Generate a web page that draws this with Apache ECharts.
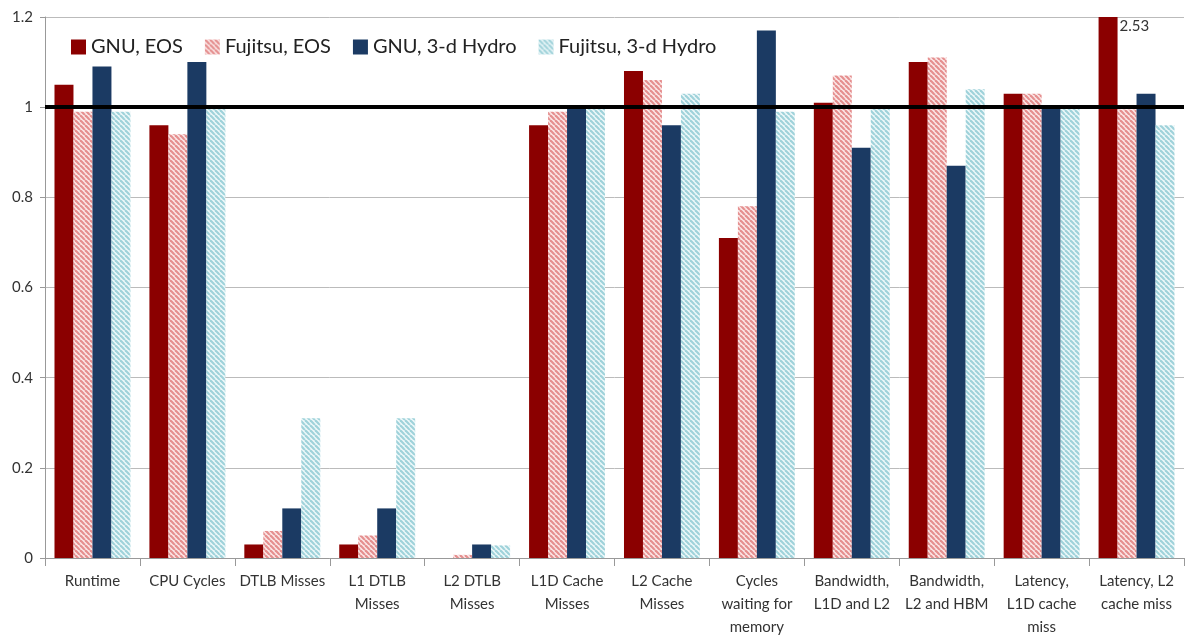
<!DOCTYPE html>
<html>
<head>
<meta charset="utf-8">
<script src="https://cdn.jsdelivr.net/npm/echarts@6/dist/echarts.min.js"></script>
<style>
html,body{margin:0;padding:0;background:#fff;}
#chart{width:1196px;height:642px;}
</style>
</head>
<body>
<div id="chart"></div>
<script>
const categories = ["Runtime", "CPU Cycles", "DTLB Misses", "L1 DTLB\nMisses", "L2 DTLB\nMisses", "L1D Cache\nMisses", "L2 Cache\nMisses", "Cycles\nwaiting for\nmemory", "Bandwidth,\nL1D and L2", "Bandwidth,\nL2 and HBM", "Latency,\nL1D cache\nmiss", "Latency, L2\ncache miss"];
const gnuEos = [1.05, 0.96, 0.03, 0.03, 0, 0.96, 1.08, 0.71, 1.01, 1.10, 1.03, 2.53];
const fujitsuEos = [0.99, 0.94, 0.06, 0.05, 0.007, 0.99, 1.06, 0.78, 1.07, 1.11, 1.03, 0.995];
const gnuHydro = [1.09, 1.10, 0.11, 0.11, 0.03, 1.00, 0.96, 1.17, 0.91, 0.87, 1.00, 1.03];
const fujitsuHydro = [0.99, 1.00, 0.31, 0.31, 0.028, 1.00, 1.03, 0.99, 1.00, 1.04, 1.00, 0.96];
const seriesNames = ["GNU, EOS", "Fujitsu, EOS", "GNU, 3-d Hydro", "Fujitsu, 3-d Hydro"];
const yTicks = {min: 0, max: 1.2, interval: 0.2};

function hatch(line, bg) {
  const c = document.createElement('canvas');
  c.width = 5; c.height = 5;
  const ctx = c.getContext('2d');
  ctx.fillStyle = bg; ctx.fillRect(0, 0, 5, 5);
  ctx.strokeStyle = line; ctx.lineWidth = 2.2;
  for (let k = -5; k <= 10; k += 5) {
    ctx.beginPath(); ctx.moveTo(k, 0); ctx.lineTo(k + 5, 5); ctx.stroke();
  }
  return {image: c, repeat: 'repeat'};
}

const pinkPat = hatch('#e58f8f', '#fbe8e8');
const bluePat = hatch('#9fd2da', '#eef8fa');

const chart = echarts.init(document.getElementById('chart'));
const font = 'Lato, "Open Sans", sans-serif';

const lastIdx = gnuEos.length - 1;
const gnuEosData = gnuEos.map((v, i) => i === lastIdx ? {
  value: v,
  label: {show: true, position: [21, 2], formatter: String(v.toFixed(2)), color: '#333', fontSize: 15, fontFamily: font}
} : v);

chart.setOption({
  animation: false,
  textStyle: {fontFamily: font},
  legend: {
    left: 66, top: 32,
    itemWidth: 15, itemHeight: 15, itemGap: 22,
    textStyle: {fontSize: 20, color: '#222', fontFamily: font},
    data: seriesNames.map(n => ({name: n, icon: 'rect'}))
  },
  grid: {left: 45, right: 12, top: 17, bottom: 84, containLabel: false},
  xAxis: {
    type: 'category',
    data: categories,
    axisLine: {lineStyle: {color: '#999'}},
    axisTick: {show: true, length: 8, lineStyle: {color: '#999'}},
    axisLabel: {fontSize: 15, color: '#333', lineHeight: 23, margin: 12, interval: 0, fontFamily: font}
  },
  yAxis: {
    type: 'value',
    min: yTicks.min, max: yTicks.max, interval: yTicks.interval,
    axisLine: {show: true, lineStyle: {color: '#999'}},
    axisTick: {show: true, length: 5, lineStyle: {color: '#999'}},
    splitLine: {lineStyle: {color: '#bbb'}},
    axisLabel: {fontSize: 15, color: '#333', margin: 12, fontFamily: font,
      formatter: v => String(Math.round(v * 10) / 10)}
  },
  series: [
    {name: seriesNames[0], type: 'bar', data: gnuEosData, itemStyle: {color: '#8b0000'},
     barGap: '0%', barCategoryGap: '20%', clip: true,
     markLine: {silent: true, symbol: 'none', label: {show: false},
       lineStyle: {color: '#000', width: 4, type: 'solid'}, data: [{yAxis: 1}]}},
    {name: seriesNames[1], type: 'bar', data: fujitsuEos, itemStyle: {color: pinkPat}, barGap: '0%', barCategoryGap: '20%'},
    {name: seriesNames[2], type: 'bar', data: gnuHydro, itemStyle: {color: '#1b3a63'}, barGap: '0%', barCategoryGap: '20%'},
    {name: seriesNames[3], type: 'bar', data: fujitsuHydro, itemStyle: {color: bluePat}, barGap: '0%', barCategoryGap: '20%'}
  ]
});
</script>
</body>
</html>
